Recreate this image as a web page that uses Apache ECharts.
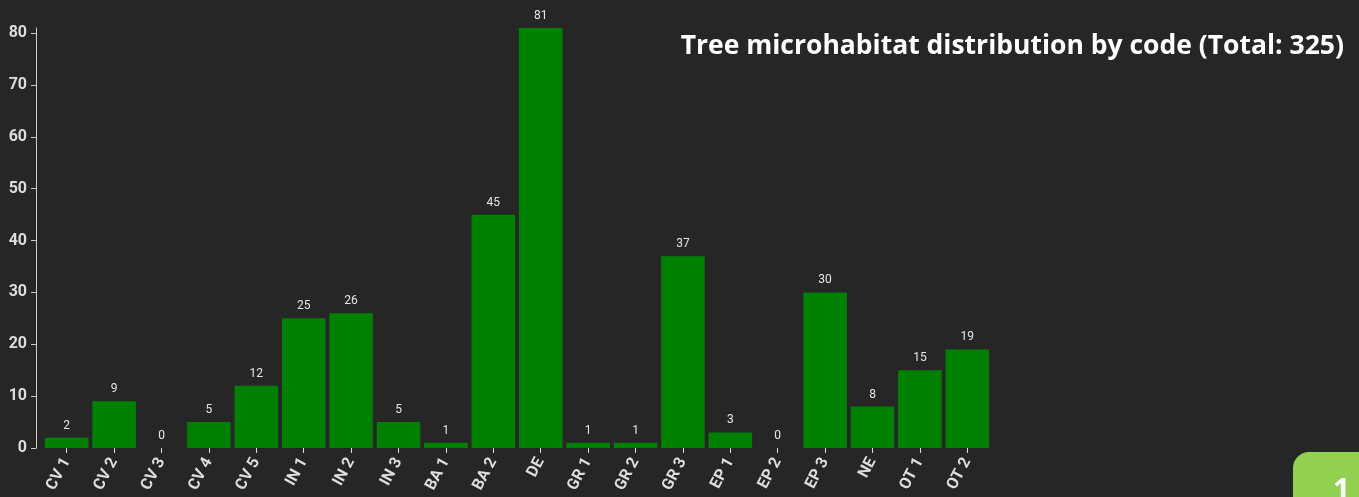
<!DOCTYPE html>
<html>
<head>
<meta charset="utf-8">
<script src="https://cdn.jsdelivr.net/npm/echarts@6/dist/echarts.min.js"></script>
<style>
  html, body { margin: 0; padding: 0; background: #262626; }
  #chart { width: 1359px; height: 497px; }
</style>
</head>
<body>
<div id="chart"></div>
<script>
// microhabitat codes and counts
var codes = ['CV 1', 'CV 2', 'CV 3', 'CV 4', 'CV 5', 'IN 1', 'IN 2', 'IN 3', 'BA 1', 'BA 2',
    'DE', 'GR 1', 'GR 2', 'GR 3', 'EP 1', 'EP 2', 'EP 3', 'NE', 'OT 1', 'OT 2'];
var counts = [2, 9, 0, 5, 12, 25, 26, 5, 1, 45, 81, 1, 1, 37, 3, 0, 30, 8, 15, 19];
var yTicks = [0, 10, 20, 30, 40, 50, 60, 70, 80];

var total = counts.reduce(function (a, b) { return a + b; }, 0);

var myChart = echarts.init(document.getElementById('chart'));
var option = {
    backgroundColor: '#262626',
    animation: false,
    title: {
        text: 'Tree microhabitat distribution by code (Total: ' + total + ')',
        right: 10,
        top: 28,
        textStyle: {
            color: '#ffffff',
            fontFamily: 'Open Sans',
            fontWeight: 'bold',
            fontSize: 26.5
        }
    },
    grid: {
        left: 43,
        right: 368,
        top: 28,
        bottom: 49
    },
    xAxis: {
        type: 'category',
        data: codes,
        axisLine: { show: false },
        axisTick: {
            show: true,
            alignWithLabel: true,
            length: 5,
            lineStyle: { color: '#dddddd' }
        },
        axisLabel: {
            rotate: 62,
            interval: 0,
            margin: 11,
            color: '#dddddd',
            fontFamily: 'Roboto',
            fontWeight: 'bold',
            fontSize: 16
        }
    },
    yAxis: {
        type: 'value',
        min: 0,
        max: 81,
        interval: 10,
        offset: 7,
        splitLine: { show: false },
        axisLine: { show: true, lineStyle: { color: '#cccccc' } },
        axisTick: { show: true, length: 5, lineStyle: { color: '#cccccc' } },
        axisLabel: {
            showMaxLabel: false,
            margin: 9,
            color: '#dddddd',
            fontFamily: 'Roboto',
            fontWeight: 'bold',
            fontSize: 16,
            formatter: function (v) {
                return yTicks.indexOf(v) >= 0 ? String(v) : '';
            }
        }
    },
    series: [{
        type: 'bar',
        data: counts,
        barCategoryGap: '8%',
        itemStyle: {
            color: '#008000'
        },
        label: {
            show: true,
            position: 'top',
            distance: 6,
            color: '#e6e6e6',
            fontFamily: 'Roboto',
            fontSize: 12
        }
    }],
    graphic: [{
        type: 'rect',
        left: 1293,
        top: 452,
        shape: { width: 100, height: 80, r: 16 },
        style: { fill: '#92d050' }
    }, {
        type: 'text',
        left: 1333,
        top: 476,
        style: {
            text: '1',
            fill: '#ffffff',
            font: 'bold 30px "Open Sans"'
        }
    }]
};
myChart.setOption(option);
</script>
</body>
</html>
